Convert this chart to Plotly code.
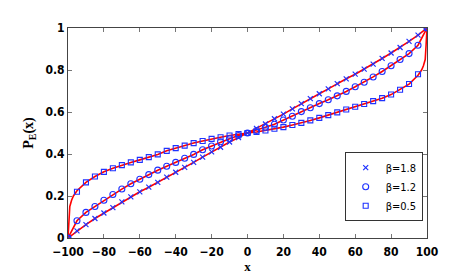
import plotly.graph_objects as go

# sample points (every 5 units)
x_pts = [-100, -95, -90, -85, -80, -75, -70, -65, -60, -55, -50, -45, -40, -35, -30, -25, -20,
         -15, -10, -5, 0, 5, 10, 15, 20, 25, 30, 35, 40, 45, 50, 55, 60, 65, 70, 75, 80,
         85, 90, 95, 100]

p_b18 = [0.0, 0.034, 0.064, 0.093, 0.119, 0.145, 0.172, 0.196, 0.22, 0.242, 0.265, 0.29,
         0.313, 0.336, 0.36, 0.385, 0.41, 0.432, 0.457, 0.478, 0.5, 0.522, 0.543, 0.568,
         0.59, 0.615, 0.64, 0.664, 0.687, 0.71, 0.735, 0.758, 0.78, 0.804, 0.828, 0.855,
         0.881, 0.907, 0.936, 0.966, 1.0]

p_b12 = [0.0, 0.082, 0.122, 0.15, 0.18, 0.207, 0.233, 0.258, 0.28, 0.302, 0.323, 0.342,
         0.36, 0.38, 0.398, 0.42, 0.438, 0.458, 0.473, 0.488, 0.5, 0.512, 0.527, 0.542,
         0.562, 0.58, 0.602, 0.62, 0.64, 0.658, 0.677, 0.698, 0.72, 0.742, 0.767, 0.793,
         0.82, 0.85, 0.878, 0.918, 1.0]

p_b05 = [0.0, 0.22, 0.265, 0.293, 0.315, 0.332, 0.347, 0.36, 0.372, 0.385, 0.398, 0.415,
         0.428, 0.44, 0.452, 0.462, 0.472, 0.48, 0.488, 0.495, 0.5, 0.505, 0.512, 0.52,
         0.528, 0.538, 0.548, 0.56, 0.572, 0.585, 0.598, 0.612, 0.625, 0.638, 0.652, 0.666,
         0.683, 0.706, 0.733, 0.78, 1.0]

# fitted curve for beta=0.5 has steep ends, so it gets extra points there
x_fit05 = [-100, -99.5, -99, -98, -97, -95, -90, -85, -80, -75, -70, -65, -60, -55, -50,
           -45, -40, -35, -30, -25, -20, -15, -10, -5, 0, 5, 10, 15, 20, 25, 30, 35, 40,
           45, 50, 55, 60, 65, 70, 75, 80, 85, 90, 95, 97, 98, 99, 99.5, 100]
p_fit05 = [0.0, 0.08, 0.15, 0.18, 0.2, 0.225, 0.265, 0.293, 0.315, 0.332, 0.347, 0.36,
           0.372, 0.385, 0.398, 0.415, 0.428, 0.44, 0.452, 0.462, 0.472, 0.48, 0.488,
           0.495, 0.5, 0.505, 0.512, 0.52, 0.528, 0.538, 0.548, 0.56, 0.572, 0.585, 0.598,
           0.612, 0.625, 0.638, 0.652, 0.666, 0.683, 0.706, 0.733, 0.775, 0.8, 0.82, 0.85,
           0.92, 1.0]

x_ticks = [-100, -80, -60, -40, -20, 0, 20, 40, 60, 80, 100]
y_ticks = [0, 0.2, 0.4, 0.6, 0.8, 1]
y_ticklabels = ['0', '0.2', '0.4', '0.6', '0.8', '1']

RED = 'rgb(255,0,0)'
BLUE = 'rgb(30,50,255)'
NARROW = 'Liberation Sans Narrow, DejaVu Sans Condensed, sans-serif'
TICKFONT = dict(family=NARROW, size=12, color='black', weight='bold')

fig = go.Figure()

# red fitted lines
for xs, ys in [(x_pts, p_b18), (x_pts, p_b12), (x_fit05, p_fit05)]:
    fig.add_trace(go.Scatter(x=xs, y=ys, mode='lines', showlegend=False,
                             line=dict(color=RED, width=1.6)))

# blue markers
fig.add_trace(go.Scatter(x=x_pts, y=p_b18, mode='markers', name='β=1.8',
                         marker=dict(symbol='x-thin-open', size=5, color=BLUE,
                                     line=dict(color=BLUE, width=1.2))))
fig.add_trace(go.Scatter(x=x_pts, y=p_b12, mode='markers', name='β=1.2',
                         marker=dict(symbol='circle-open', size=6, color=BLUE,
                                     line=dict(color=BLUE, width=1.1))))
fig.add_trace(go.Scatter(x=x_pts, y=p_b05, mode='markers', name='β=0.5',
                         marker=dict(symbol='square-open', size=5, color=BLUE,
                                     line=dict(color=BLUE, width=1.1))))

fig.update_layout(
    width=463, height=273,
    margin=dict(l=60, r=44, t=20, b=36),
    paper_bgcolor='white', plot_bgcolor='white',
    legend=dict(x=0.988, y=0.08, xanchor='right', yanchor='bottom',
                bgcolor='white', bordercolor='#333', borderwidth=1,
                font=dict(family=NARROW, size=11, color='black'),
                itemwidth=30, tracegroupgap=0),
)
fig.update_xaxes(range=[-100, 100], tickvals=x_ticks, ticks='inside', ticklen=4,
                 tickcolor='#777', showline=True, linecolor='#444', linewidth=1,
                 mirror='ticks', showgrid=False, zeroline=False, tickfont=TICKFONT,
                 ticklabelstandoff=3,
                 title=dict(text='<b>x</b>', standoff=0,
                            font=dict(family='Liberation Serif', size=13, color='black')))
fig.update_yaxes(range=[0, 1], tickvals=y_ticks, ticktext=y_ticklabels, ticks='inside',
                 ticklen=4, tickcolor='#777', showline=True, linecolor='#444', linewidth=1,
                 mirror='ticks', showgrid=False, zeroline=False, tickfont=TICKFONT,
                 title=dict(text='<b>P<sub>E</sub>(x)</b>', standoff=8,
                            font=dict(family='Liberation Serif', size=14, color='black')))

fig.write_html('out.html')
